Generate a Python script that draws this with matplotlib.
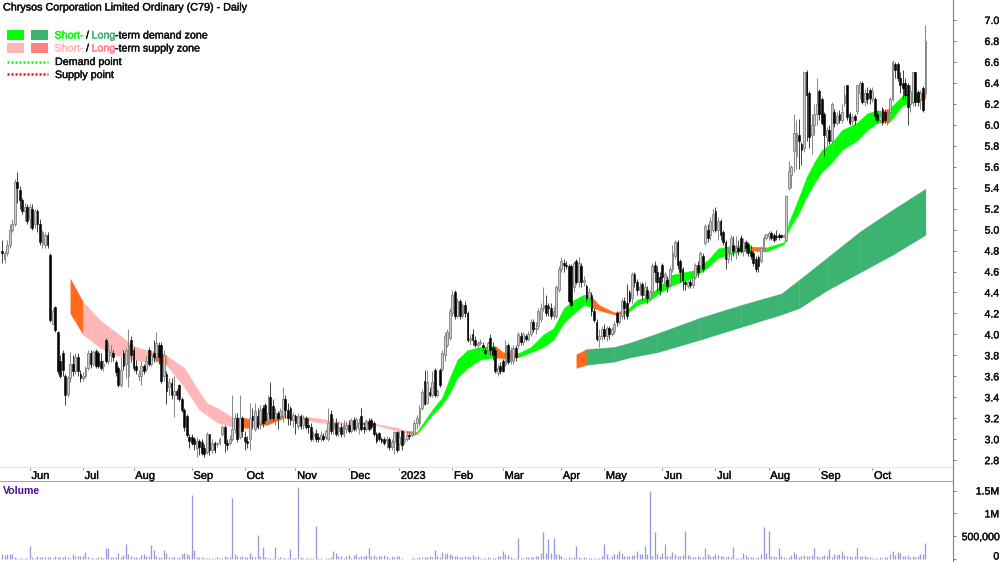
import numpy as np
import matplotlib
matplotlib.use("Agg")
import matplotlib.pyplot as plt
import matplotlib.patheffects as pe
from matplotlib.patches import Rectangle
from matplotlib.lines import Line2D
from matplotlib.transforms import ScaledTranslation

plt.rcParams['font.family'] = ['Liberation Sans', 'DejaVu Sans']

# ---------- daily prices, 20 bars per block ----------
opens_a = [4.80,4.72,4.78,4.85,5.00,5.05,5.45,5.38,5.28,5.18,5.22,5.10,5.20,5.05,5.18,5.05,4.86,4.85,4.95,4.76]
closes_a = [4.78,4.78,4.85,5.00,5.05,5.45,5.40,5.28,5.18,5.22,5.08,5.22,5.02,5.18,5.05,4.88,4.98,4.95,4.85,4.14]
highs_a = [4.90,4.80,4.90,5.05,5.10,5.48,5.55,5.42,5.30,5.25,5.24,5.24,5.24,5.20,5.20,5.10,5.00,4.98,4.98,4.78]
lows_a = [4.68,4.68,4.75,4.82,4.98,5.03,5.25,5.20,5.15,5.08,5.05,5.02,5.00,5.02,4.98,4.85,4.82,4.82,4.82,4.12]

opens_b = [4.10,4.26,4.02,3.75,3.82,3.60,3.43,3.58,3.72,3.65,3.78,3.62,3.58,3.60,3.68,3.82,3.72,3.84,3.82,3.75]
closes_b = [4.22,4.04,3.65,3.60,3.66,3.42,3.58,3.72,3.65,3.78,3.65,3.58,3.60,3.68,3.82,3.72,3.83,3.70,3.70,3.68]
highs_b = [4.25,4.27,4.03,3.80,3.85,3.62,3.60,3.83,3.80,3.82,3.82,3.66,3.64,3.70,3.85,3.85,3.85,3.86,3.84,3.82]
lows_b = [4.10,4.02,3.62,3.58,3.60,3.33,3.40,3.55,3.60,3.62,3.60,3.55,3.56,3.58,3.66,3.68,3.70,3.68,3.68,3.66]

opens_c = [3.70,3.95,3.75,3.80,3.82,3.74,3.68,3.52,3.82,3.72,3.60,3.95,3.85,3.70,3.60,3.60,3.70,3.67,3.85,3.72]
closes_c = [3.72,3.75,3.85,3.83,3.78,3.64,3.52,3.66,3.70,3.85,3.90,3.80,3.68,3.66,3.62,3.70,3.65,3.75,3.72,3.80]
highs_c = [3.76,3.97,3.93,3.90,3.85,3.76,3.70,3.78,3.85,3.87,4.05,3.98,3.88,3.76,3.66,3.75,3.72,3.80,3.88,3.85]
lows_c = [3.65,3.73,3.72,3.74,3.75,3.60,3.50,3.50,3.66,3.58,3.50,3.74,3.65,3.62,3.56,3.52,3.62,3.65,3.70,3.70]

opens_d = [3.82,3.78,3.90,3.90,3.60,3.62,3.50,3.54,3.42,3.46,3.52,3.38,3.28,3.22,3.02,3.02,3.00,2.92,2.98,2.97]
closes_d = [3.78,3.92,3.78,3.56,3.80,3.46,3.55,3.42,3.46,3.42,3.38,3.28,3.12,3.04,2.98,2.96,2.95,2.98,2.93,2.87]
highs_d = [3.95,4.02,3.93,3.93,3.85,3.65,3.58,3.58,3.60,3.48,3.53,3.40,3.30,3.24,3.05,3.05,3.02,3.02,3.00,3.00]
lows_d = [3.74,3.74,3.72,3.54,3.56,3.34,3.42,3.38,3.21,3.38,3.36,3.26,3.08,3.02,2.92,2.94,2.90,2.83,2.85,2.85]

opens_e = [2.92,2.88,3.05,2.90,2.96,2.95,2.96,3.05,3.12,2.96,2.96,3.00,3.10,3.20,3.02,3.20,3.02,2.98,3.00,3.22]
closes_e = [2.86,3.05,2.90,2.96,2.90,2.96,3.00,3.12,2.96,2.94,3.00,3.10,3.20,3.00,3.20,3.08,2.98,2.96,3.20,3.18]
highs_e = [2.95,3.07,3.05,3.00,2.98,2.97,3.02,3.14,3.14,3.00,3.04,3.42,3.25,3.25,3.42,3.22,3.08,3.03,3.35,3.30]
lows_e = [2.83,2.86,2.85,2.87,2.87,2.93,2.94,3.03,2.88,2.90,2.94,2.98,3.06,2.97,3.00,3.02,2.90,2.92,2.90,3.10]

opens_f = [3.10,3.22,3.15,3.30,3.33,3.18,3.40,3.32,3.20,3.25,3.22,3.22,3.38,3.28,3.30,3.18,3.22,3.13,3.22,3.14]
closes_f = [3.27,3.12,3.28,3.15,3.18,3.25,3.20,3.20,3.25,3.20,3.27,3.38,3.28,3.20,3.18,3.23,3.15,3.22,3.13,3.20]
highs_f = [3.35,3.30,3.33,3.33,3.35,3.42,3.55,3.38,3.30,3.27,3.30,3.50,3.42,3.35,3.32,3.26,3.24,3.25,3.24,3.23]
lows_f = [3.08,3.10,3.10,3.12,3.15,3.14,3.18,3.17,3.14,3.10,3.18,3.16,3.20,3.14,3.14,3.12,3.05,3.10,3.10,3.10]

opens_g = [3.20,3.14,3.12,3.03,3.06,3.02,3.00,3.03,3.02,3.00,3.24,3.10,3.15,3.08,3.12,3.05,3.10,3.14,3.08,3.18]
closes_g = [3.12,3.12,3.00,3.05,3.00,3.00,3.04,3.00,3.08,3.15,3.08,3.15,3.05,3.12,3.05,3.14,3.14,3.08,3.18,3.10]
highs_g = [3.22,3.20,3.15,3.08,3.10,3.06,3.08,3.06,3.10,3.30,3.28,3.20,3.20,3.17,3.15,3.18,3.17,3.18,3.20,3.21]
lows_g = [3.10,3.06,2.98,2.98,2.97,2.97,2.98,2.98,3.00,2.98,3.05,3.05,3.03,3.03,3.02,3.02,3.06,3.06,3.06,3.08]

opens_h = [3.12,3.10,3.22,3.12,3.10,3.17,3.18,3.15,3.05,3.06,3.00,3.00,2.98,3.00,2.93,2.97,3.07,2.95,3.08,2.98]
closes_h = [3.19,3.15,3.10,3.10,3.17,3.10,3.12,3.05,2.98,3.00,2.98,2.96,3.00,2.93,2.97,3.07,2.90,3.02,2.94,3.00]
highs_h = [3.21,3.20,3.30,3.16,3.19,3.20,3.20,3.17,3.07,3.07,3.02,3.02,3.03,3.02,3.00,3.08,3.08,3.08,3.09,3.08]
lows_h = [3.08,3.05,3.08,3.06,3.08,3.08,3.10,3.03,2.96,2.98,2.96,2.94,2.92,2.90,2.90,2.86,2.88,2.90,2.90,2.95]

opens_i = [3.00,3.04,3.04,3.05,3.15,3.15,3.30,3.56,3.35,3.45,3.42,3.66,3.42,3.66,3.67,3.80,3.90,3.97,4.20,4.40]
closes_i = [3.04,3.03,3.06,3.15,3.20,3.30,3.45,3.34,3.55,3.42,3.55,3.42,3.46,3.52,3.82,3.98,4.02,4.22,4.38,4.18]
highs_i = [3.08,3.06,3.08,3.18,3.23,3.33,3.48,3.66,3.66,3.50,3.65,3.68,3.48,3.68,3.85,4.02,4.05,4.25,4.42,4.42]
lows_i = [2.98,3.00,3.02,3.04,3.10,3.13,3.28,3.33,3.34,3.40,3.40,3.40,3.40,3.50,3.65,3.75,3.88,3.95,4.18,4.15]

opens_j = [4.18,4.32,4.18,4.28,4.20,3.95,4.00,3.95,3.90,3.92,3.90,3.85,3.85,3.97,3.88,3.85,3.63,3.70,3.75,3.72]
closes_j = [4.32,4.18,4.28,4.20,3.95,3.97,3.95,3.90,3.92,3.93,3.88,3.82,3.92,3.85,3.80,3.65,3.68,3.65,3.65,3.90]
highs_j = [4.35,4.34,4.30,4.32,4.22,4.00,4.05,3.98,3.94,3.96,3.93,3.88,3.94,4.00,3.93,3.88,3.72,3.74,3.77,3.95]
lows_j = [4.16,4.15,4.16,4.17,3.93,3.90,3.90,3.88,3.86,3.90,3.85,3.80,3.82,3.80,3.76,3.63,3.60,3.62,3.64,3.70]

opens_k = [3.90,3.75,3.75,3.87,3.90,3.98,3.93,3.98,3.96,4.00,4.12,4.05,4.08,4.15,4.25,4.28,4.27,4.25,4.18,4.18]
closes_k = [3.74,3.85,3.87,3.78,4.00,3.93,4.00,3.96,4.00,4.12,4.05,4.06,4.22,4.25,4.28,4.20,4.25,4.18,4.22,4.45]
highs_k = [3.92,3.88,3.90,3.90,4.02,4.02,4.02,4.00,4.03,4.15,4.15,4.12,4.25,4.30,4.45,4.38,4.30,4.30,4.27,4.47]
lows_k = [3.72,3.72,3.72,3.75,3.87,3.90,3.90,3.94,3.94,3.98,4.02,4.00,4.05,4.12,4.22,4.18,4.18,4.15,4.15,4.16]

opens_l = [4.42,4.62,4.68,4.66,4.65,4.65,4.45,4.70,4.50,4.65,4.50,4.46,4.35,4.38,4.22,4.12,3.96,3.98,4.05,3.98]
closes_l = [4.62,4.70,4.66,4.65,4.32,4.28,4.68,4.50,4.68,4.50,4.52,4.35,4.40,4.22,4.14,3.96,3.98,4.05,3.98,4.06]
highs_l = [4.65,4.74,4.72,4.70,4.67,4.67,4.70,4.72,4.74,4.68,4.56,4.48,4.44,4.40,4.25,4.15,4.05,4.08,4.10,4.08]
lows_l = [4.40,4.60,4.60,4.62,4.30,4.26,4.40,4.48,4.45,4.45,4.46,4.32,4.28,4.18,4.12,3.94,3.88,3.95,3.96,3.94]

opens_m = [4.06,4.00,4.03,4.20,4.12,4.18,4.32,4.30,4.40,4.35,4.58,4.50,4.42,4.48,4.38,4.42,4.35,4.40,4.66,4.60]
closes_m = [4.00,4.05,4.10,4.12,4.20,4.32,4.25,4.18,4.32,4.58,4.50,4.42,4.45,4.38,4.45,4.35,4.40,4.65,4.60,4.50]
highs_m = [4.08,4.07,4.13,4.22,4.22,4.35,4.36,4.48,4.42,4.60,4.60,4.53,4.50,4.50,4.50,4.46,4.42,4.68,4.70,4.65]
lows_m = [3.96,3.98,4.00,4.08,4.10,4.15,4.15,4.15,4.30,4.30,4.45,4.38,4.38,4.33,4.32,4.30,4.32,4.38,4.50,4.40]

opens_n = [4.55,4.66,4.50,4.52,4.48,4.62,4.75,4.88,4.70,4.62,4.50,4.46,4.50,4.47,4.55,4.66,4.65,4.75,4.87,5.00]
closes_n = [4.42,4.55,4.58,4.46,4.62,4.78,4.88,4.66,4.60,4.52,4.48,4.50,4.47,4.55,4.66,4.60,4.78,4.62,5.03,4.92]
highs_n = [4.60,4.68,4.60,4.56,4.65,4.85,4.90,4.90,4.72,4.64,4.52,4.52,4.53,4.57,4.68,4.70,4.80,4.78,5.05,5.05]
lows_n = [4.38,4.50,4.42,4.40,4.45,4.60,4.72,4.62,4.50,4.42,4.42,4.44,4.44,4.44,4.53,4.55,4.62,4.60,4.85,4.88]

opens_o = [4.95,5.00,5.18,5.00,5.08,4.98,4.88,4.72,4.78,4.85,4.80,4.82,4.92,4.80,4.88,4.86,4.80,4.78,4.72,4.74]
closes_o = [5.08,5.15,5.00,5.08,4.95,4.88,4.72,4.78,4.92,4.80,4.82,4.80,4.80,4.88,4.82,4.78,4.75,4.68,4.62,4.65]
highs_o = [5.12,5.20,5.22,5.12,5.10,5.00,4.90,4.82,4.95,4.94,4.94,4.90,4.95,4.92,4.90,4.88,4.85,4.80,4.75,4.76]
lows_o = [4.90,4.98,4.98,4.90,4.90,4.85,4.62,4.68,4.70,4.75,4.72,4.76,4.78,4.75,4.78,4.75,4.72,4.65,4.60,4.60]

opens_p = [4.70,4.82,4.92,4.94,4.97,4.95,4.94,4.95,4.95,4.93,4.90,5.40,5.52,5.75,5.70,5.90,5.82,5.78,6.50,6.30]
closes_p = [4.82,4.92,4.96,4.97,4.92,4.90,4.93,4.93,4.93,4.95,5.32,5.56,5.60,5.92,5.92,5.85,5.76,6.50,6.28,5.88]
highs_p = [4.84,4.95,4.96,4.99,4.99,4.97,5.00,4.97,4.96,4.96,5.33,5.65,5.62,6.10,6.05,6.06,5.84,6.50,6.52,6.32]
lows_p = [4.68,4.80,4.90,4.90,4.90,4.88,4.90,4.90,4.92,4.92,4.88,5.38,5.40,5.55,5.58,5.58,5.62,5.74,5.85,5.78]

opens_q = [5.90,6.00,6.10,6.32,6.25,6.10,5.88,5.95,5.85,6.12,6.02,6.10,6.05,6.21,6.38,6.10,6.04,6.08,6.13,6.30]
closes_q = [6.00,6.10,6.20,6.10,6.02,5.90,5.95,5.85,6.20,6.02,6.08,6.05,6.12,6.28,6.07,6.02,6.07,6.05,6.38,6.40]
highs_q = [6.10,6.20,6.45,6.34,6.27,6.12,5.98,6.00,6.22,6.15,6.12,6.14,6.20,6.38,6.38,6.12,6.10,6.10,6.38,6.42]
lows_q = [5.72,5.90,6.00,6.05,6.00,5.70,5.80,5.82,5.83,5.98,6.00,6.02,6.02,6.18,6.05,6.00,6.00,6.00,6.10,6.25]

opens_r = [6.40,6.22,6.30,6.33,6.25,6.25,6.10,6.05,6.15,6.12,6.02,6.12,6.25,6.58,6.58,6.45,6.40,6.40,6.38,6.20,6.22,6.50,6.31,6.25,6.35,6.30]
closes_r = [6.22,6.30,6.25,6.26,6.32,6.08,6.05,6.08,6.03,6.05,6.12,6.25,6.60,6.52,6.45,6.38,6.35,6.28,6.17,6.32,6.50,6.22,6.22,6.30,6.14,6.80]
highs_r = [6.42,6.34,6.36,6.35,6.36,6.27,6.13,6.12,6.17,6.15,6.15,6.27,6.62,6.60,6.60,6.50,6.52,6.45,6.40,6.38,6.50,6.50,6.33,6.33,6.37,6.95]
lows_r = [6.20,6.18,6.20,6.20,6.22,6.05,6.02,6.03,6.00,6.02,6.00,6.10,6.23,6.45,6.42,6.30,6.25,6.25,6.00,6.12,6.18,6.18,6.18,6.15,6.12,6.28]

opens = opens_a+opens_b+opens_c+opens_d+opens_e+opens_f+opens_g+opens_h+opens_i+opens_j+opens_k+opens_l+opens_m+opens_n+opens_o+opens_p+opens_q+opens_r
closes = closes_a+closes_b+closes_c+closes_d+closes_e+closes_f+closes_g+closes_h+closes_i+closes_j+closes_k+closes_l+closes_m+closes_n+closes_o+closes_p+closes_q+closes_r
highs = highs_a+highs_b+highs_c+highs_d+highs_e+highs_f+highs_g+highs_h+highs_i+highs_j+highs_k+highs_l+highs_m+highs_n+highs_o+highs_p+highs_q+highs_r
lows = lows_a+lows_b+lows_c+lows_d+lows_e+lows_f+lows_g+lows_h+lows_i+lows_j+lows_k+lows_l+lows_m+lows_n+lows_o+lows_p+lows_q+lows_r

# volume, thousands of shares
volume_k = [
 110,90,115,120,115,50,30,25,30,25,30,290,40,30,55,45,40,50,40,35,
 30,55,40,50,45,60,50,25,100,75,60,75,60,160,50,20,20,20,40,35,
 30,235,230,50,45,40,130,45,85,330,120,60,50,35,30,90,120,60,60,300,
 200,60,50,50,200,130,50,40,35,30,50,100,130,110,90,1410,200,50,40,35,
 30,25,20,30,25,40,30,30,60,50,40,1330,100,60,40,60,50,40,140,70,
 50,520,70,270,50,30,25,30,270,30,45,30,25,20,220,25,20,1570,40,20,
 25,15,20,20,720,25,15,10,20,15,45,170,130,70,60,30,70,80,30,90,
 100,40,60,70,90,230,60,80,50,70,60,80,70,30,60,50,70,60,20,10,
 10,10,15,30,30,40,40,40,50,60,40,190,60,50,150,120,140,120,90,60,
 70,50,50,60,60,40,90,50,60,20,20,30,40,30,20,20,60,60,180,110,
 80,40,30,30,460,30,20,40,40,50,50,60,70,130,600,130,430,140,460,120,
 110,60,30,30,40,30,40,290,40,30,40,30,25,30,20,20,30,60,330,120,
 30,70,100,110,180,130,70,70,60,80,90,170,110,100,290,110,1500,70,600,120,
 70,130,330,70,60,150,100,70,70,80,620,90,60,50,40,60,40,50,240,100,
 60,70,100,90,60,70,50,60,50,270,30,30,30,140,90,40,50,40,30,50,
 120,700,130,610,60,70,50,240,60,50,30,50,80,150,120,50,60,80,70,60,
 80,240,70,50,60,80,70,220,40,100,80,120,170,80,70,60,50,60,230,70,
 60,70,50,40,30,30,30,40,30,40,50,100,170,90,150,130,60,70,80,50,
 60,40,70,100,120,350]

# short-term band: bar number, upper, lower, zone of the stretch that follows
short_day = [27,32,39,45,52,57,60,65,72,75,78,81,85,91,95,98,100,105,111,118,125,137,147,156,160,164,166,170,174,177,180,184,189,195,198,204,209,214,218,222,226,230,233,236,242,247,251,255,259,265,273,279,283,287,292,296,302,309,311,315,318,321,324,328,332,338,342,346,348,351,356,360,363,365]
short_top = [4.53,4.31,4.13,4.02,3.89,3.85,3.84,3.80,3.68,3.565,3.45,3.345,3.30,3.21,3.21,3.19,3.17,3.20,3.23,3.22,3.20,3.15,3.15,3.11,3.08,3.07,3.14,3.28,3.40,3.59,3.76,3.85,3.88,3.89,3.83,3.82,3.88,4.00,4.06,4.25,4.33,4.38,4.36,4.28,4.21,4.23,4.33,4.36,4.44,4.57,4.61,4.71,4.82,4.84,4.85,4.84,4.83,4.88,5.07,5.31,5.50,5.64,5.76,5.83,5.95,6.02,6.11,6.14,6.13,6.16,6.28,6.31,6.31,6.30]
short_bot = [4.20,4.00,3.87,3.80,3.76,3.74,3.76,3.71,3.50,3.39,3.28,3.23,3.16,3.12,3.11,3.11,3.13,3.14,3.20,3.20,3.16,3.14,3.14,3.08,3.06,3.05,3.11,3.23,3.33,3.44,3.59,3.68,3.76,3.78,3.77,3.78,3.83,3.88,3.95,4.11,4.20,4.28,4.26,4.23,4.19,4.20,4.28,4.31,4.38,4.47,4.54,4.64,4.73,4.76,4.79,4.80,4.79,4.86,5.00,5.16,5.31,5.44,5.55,5.64,5.76,5.85,5.95,6.02,6.02,6.03,6.19,6.21,6.23,6.25]
short_zone = list("O" "PPPPP" "O" "PPPPPPP" "O" "P" "OO" "PPP" "O" "PP" "O" "GGGGGGGG" "OO" "GGGGGGG" "OOO" "GGGGGGGGGG" "O" "GGGGGGGGGGGG" "O" "GGG" "O")

# long-term band
long_day = [227,231,242,248,259,276,292,308,315,326,339,352,365]
long_top = [3.81,3.86,3.88,3.92,4.01,4.16,4.28,4.39,4.52,4.73,4.98,5.19,5.39]
long_bot = [3.68,3.71,3.74,3.78,3.83,3.95,4.07,4.19,4.25,4.42,4.59,4.76,4.95]
long_zone = list("OLLLLLLLLLLL")

month_days = [11,32,52,75,96,116,137,157,178,198,221,238,261,282,303,323,344]
month_labels = ['Jun','Jul','Aug','Sep','Oct','Nov','Dec','2023','Feb','Mar','Apr','May','Jun','Jul','Aug','Sep','Oct']
price_ticks = [2.8,3.0,3.2,3.4,3.6,3.8,4.0,4.2,4.4,4.6,4.8,5.0,5.2,5.4,5.6,5.8,6.0,6.2,6.4,6.6,6.8,7.0]
volume_ticks = [0,500,1000,1500]
volume_tick_labels = ['0','500,000','1M','1.5M']

title_text = 'Chrysos Corporation Limited Ordinary (C79) - Daily'

# ---------- style ----------
W, H = 1000, 562
GREEN, SEA, PINK, SALMON, ORANGE = '#00FF00', '#3CB371', '#FFB6B6', '#FF7F7F', '#FF6A1C'
ZONE = {'G': GREEN, 'L': SEA, 'P': PINK, 'O': ORANGE}
GREY = '#808080'
INK = '#111111'

def heavy(col, w=0.3):
    return [pe.withStroke(linewidth=w, foreground=col)]

def rect(x0, ytop, x1, ybot):
    return [x0/W, 1-ybot/H, (x1-x0)/W, (ybot-ytop)/H]

fig = plt.figure(figsize=(10, 5.62), dpi=100, facecolor='white')
XL = (-2/2.53, (953-2)/2.53)

ax = fig.add_axes(rect(0, 0, 953, 467.5))
axd = fig.add_axes(rect(0, 467.5, 953, 482))
axv = fig.add_axes(rect(0, 482, 953, 562))

for a in (ax, axd, axv):
    a.set_xlim(*XL)
    for s in a.spines.values():
        s.set_visible(False)
    a.spines['right'].set_visible(True)
    a.spines['right'].set_color(GREY)
    a.spines['right'].set_linewidth(0.8)
    a.set_xticks([])

ax.set_ylim(7-(467.5-20)/104.8, 7+20/104.8)
ax.spines['bottom'].set_visible(True)
ax.spines['bottom'].set_color(GREY)
ax.spines['bottom'].set_linewidth(1.0)

def band(axis, day, top, bot, zone, z):
    for i in range(len(day)-1):
        c = ZONE[zone[i]]
        axis.fill_between(day[i:i+2], top[i:i+2], bot[i:i+2], color=c, lw=0.25, zorder=z)

band(ax, short_day, short_top, short_bot, short_zone, 1)
band(ax, long_day, long_top, long_bot, long_zone, 1)

days = np.arange(len(closes))
o, c, h, l = map(np.array, (opens, closes, highs, lows))
up = c >= o
ax.vlines(days[up], l[up], h[up], color='#8a8a8a', lw=0.75, zorder=2)
ax.vlines(days[~up], l[~up], h[~up], color='#404040', lw=0.7, zorder=3)
ax.bar(days[up], (c-o)[up], bottom=o[up], width=0.72, facecolor='#cccccc', edgecolor='#808080', lw=0.6, zorder=2.5)
ax.bar(days[~up], (c-o)[~up], bottom=o[~up], width=0.72, facecolor='black', edgecolor='black', lw=0.4, zorder=3.5)

ax.set_yticks(price_ticks)
ax.set_yticklabels([f'{v:.1f}' for v in price_ticks])

# date strip
axd.set_ylim(0, 1)
axd.spines['bottom'].set_visible(True)
axd.spines['bottom'].set_color('#9a9a9a')
axd.spines['bottom'].set_linewidth(1.3)
axd.set_yticks([])
axd.vlines(month_days, 0.82, 1.0, color=GREY, lw=0.7)
for d, t in zip(month_days, month_labels):
    axd.text(d+0.65, 0.42, t, ha='left', va='center', fontsize=8, color=INK, path_effects=heavy(INK))

# volume: 0 at y=559 px, 1.5M at 490.5 px
k_px = 1500/(559-490.5)
axv.set_ylim(-(562-559)*k_px, (559-482)*k_px)
axv.vlines(days, 0, volume_k, color='#9999D8', lw=0.95)
axv.set_yticks(volume_ticks)
axv.set_yticklabels(volume_tick_labels)

for a in (ax, axv):
    a.yaxis.tick_right()
    a.tick_params(axis='y', direction='out', length=2.2, width=0.7, color=GREY, pad=31, labelsize=7.6, labelcolor=INK)
    for lab in a.get_yticklabels():
        lab.set_ha('right')
        lab.set_path_effects(heavy(INK))

# keep the zero label inside the picture
zero_label = axv.get_yticklabels()[0]
zero_label.set_transform(zero_label.get_transform() + ScaledTranslation(0, 2.5/72, fig.dpi_scale_trans))

# figure furniture
fig.text(3/W, 1-7.5/H, title_text, fontsize=7.75, ha='left', va='center', color=INK, path_effects=heavy(INK))
fig.text(3/W, 1-491/H, 'Volume', fontsize=7.6, ha='left', va='center', color='#4B0F8A', fontweight='bold')

for (x0, x1, y0, y1, col) in [(7,24,30,40,GREEN),(31,48,30,40,SEA),(7,24,43,53,PINK),(31,48,43,53,SALMON)]:
    fig.add_artist(Rectangle((x0/W, 1-y1/H), (x1-x0)/W, (y1-y0)/H, transform=fig.transFigure, facecolor=col, edgecolor='none'))
for y, col in [(62, '#00FF00'), (74, '#FF0000')]:
    fig.add_artist(Line2D([7/W, 48/W], [1-y/H, 1-y/H], transform=fig.transFigure, color=col, lw=1.8, dashes=(0.8, 0.8)))

def legend_text(x, y, t, col):
    fig.text(x/W, 1-y/H, t, fontsize=7.7, ha='left', va='center', color=col, path_effects=heavy(col))

legend_text(54.5, 35.5, 'Short-', GREEN)
legend_text(86, 35.5, '/', INK)
legend_text(91.5, 35.5, 'Long', SEA)
legend_text(115, 35.5, '-term demand zone', INK)
legend_text(54.5, 48.5, 'Short-', PINK)
legend_text(86, 48.5, '/', INK)
legend_text(91.5, 48.5, 'Long', SALMON)
legend_text(115, 48.5, '-term supply zone', INK)
legend_text(55, 62, 'Demand point', INK)
legend_text(55, 75, 'Supply point', INK)

fig.savefig('out.png', dpi=100, facecolor='white')
